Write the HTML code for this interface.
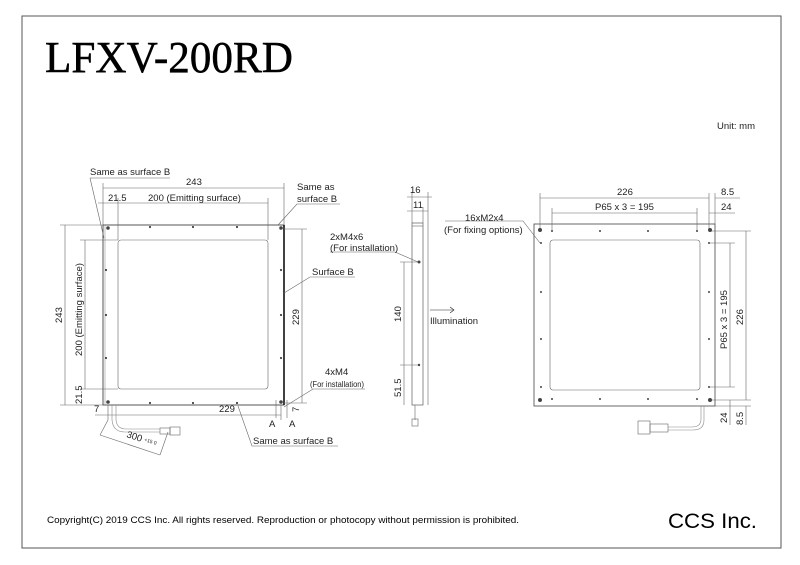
<!DOCTYPE html>
<html><head><meta charset="utf-8"><style>
html,body{margin:0;padding:0;background:#fff;}
svg{display:block;}
text{font-family:"Liberation Sans",Arial,sans-serif;fill:#222;}
.s{font-size:9.5px;}
</style></head><body>
<svg width="800" height="565" viewBox="0 0 800 565" xmlns="http://www.w3.org/2000/svg">
<rect x="22" y="16" width="759" height="532" fill="none" stroke="#555" stroke-width="1"/>
<text x="45" y="72" style="font-family:'Liberation Serif',serif;font-size:44px;fill:#000;stroke:#000;stroke-width:0.5" textLength="248" lengthAdjust="spacingAndGlyphs">LFXV-200RD</text>
<text x="717" y="129" style="font-size:9px" textLength="38" lengthAdjust="spacingAndGlyphs">Unit: mm</text>
<text x="47" y="523" style="font-size:9.5px;fill:#000" textLength="472" lengthAdjust="spacingAndGlyphs">Copyright(C) 2019 CCS Inc. All rights reserved. Reproduction or photocopy without permission is prohibited.</text>
<text x="668" y="528" style="font-size:21px;fill:#000" textLength="89" lengthAdjust="spacingAndGlyphs">CCS Inc.</text>

<g stroke="#666" stroke-width="0.6" fill="none">
<rect x="103" y="225" width="181" height="180" stroke="#444" stroke-width="0.9"/>
<line x1="284" y1="225" x2="284" y2="405" stroke="#111" stroke-width="1.6"/>
<line x1="105" y1="225" x2="105" y2="405" stroke="#999"/>
<rect x="118" y="240" width="150" height="149" rx="3"/>
<line x1="103" y1="188" x2="284" y2="188"/>
<line x1="103" y1="183" x2="103" y2="225"/><line x1="284" y1="183" x2="284" y2="225"/>
<line x1="98" y1="203" x2="268" y2="203"/>
<line x1="118" y1="198" x2="118" y2="240"/><line x1="268" y1="198" x2="268" y2="240"/>
<line x1="65" y1="225" x2="65" y2="405"/>
<line x1="60" y1="225" x2="103" y2="225"/><line x1="60" y1="405" x2="103" y2="405"/>
<line x1="85" y1="240" x2="85" y2="389"/>
<line x1="80" y1="240" x2="118" y2="240"/><line x1="80" y1="389" x2="118" y2="389"/>
<line x1="95" y1="415" x2="281" y2="415"/>
<line x1="108" y1="405" x2="108" y2="420"/><line x1="281" y1="405" x2="281" y2="420"/>
<line x1="302" y1="229" x2="302" y2="403"/>
<line x1="284" y1="229" x2="307" y2="229"/><line x1="284" y1="403" x2="307" y2="403"/>
<line x1="276" y1="400" x2="276" y2="418"/><line x1="287" y1="400" x2="287" y2="418"/>
<polyline points="90,178 170,178"/><line x1="90" y1="178" x2="104" y2="238"/>
<polyline points="340,204 297,204 278,225"/>
<polyline points="355,277 310,277 284,293"/>
<polyline points="365,389 313,389 284,407"/>
<polyline points="338,446 252,446 238,406"/>
<path d="M112 405 V420 Q113 432 125 432 H160" stroke="#888"/>
<path d="M116 405 V420 Q117 429 126 429 H160" stroke="#888"/>
<rect x="160" y="428" width="10" height="6"/><rect x="170" y="427" width="10" height="8"/>
<line x1="108" y1="420" x2="100" y2="435"/><line x1="100" y1="435" x2="160" y2="455"/><line x1="168" y1="432" x2="160" y2="455"/>

<rect x="412" y="223" width="11" height="182" stroke="#444"/>
<line x1="412" y1="226" x2="423" y2="226"/>
<line x1="407" y1="197" x2="432" y2="197"/>
<line x1="412" y1="192" x2="412" y2="223"/><line x1="428" y1="192" x2="428" y2="405"/>
<line x1="407" y1="211" x2="428" y2="211"/>
<line x1="423" y1="207" x2="423" y2="223"/>
<line x1="404" y1="262" x2="404" y2="405"/>
<line x1="400" y1="262" x2="419" y2="262"/><line x1="400" y1="365" x2="419" y2="365"/>
<polyline points="330,252 395,252 418,262"/>
<line x1="415" y1="405" x2="415" y2="420"/>
<rect x="412" y="419" width="6" height="7"/>
<line x1="430" y1="310" x2="454" y2="310" stroke="#222"/>
<polyline points="450,307 454,310 450,313" stroke="#222"/>

<rect x="534" y="224" width="181" height="182" stroke="#444" stroke-width="0.8"/>
<rect x="550" y="240" width="150" height="150" rx="3"/>
<line x1="540" y1="198" x2="709" y2="198"/>
<line x1="540" y1="193" x2="540" y2="230"/><line x1="709" y1="193" x2="709" y2="230"/>
<line x1="715" y1="198" x2="740" y2="198"/><line x1="715" y1="193" x2="715" y2="224"/>
<line x1="552" y1="213" x2="697" y2="213"/><line x1="552" y1="208" x2="552" y2="231"/><line x1="697" y1="208" x2="697" y2="231"/>
<line x1="709" y1="213" x2="735" y2="213"/>
<line x1="730" y1="243" x2="730" y2="387"/>
<line x1="709" y1="243" x2="735" y2="243"/><line x1="709" y1="387" x2="735" y2="387"/>
<line x1="746" y1="231" x2="746" y2="400"/>
<line x1="709" y1="231" x2="751" y2="231"/><line x1="709" y1="400" x2="751" y2="400"/>
<line x1="715" y1="406" x2="751" y2="406"/>
<line x1="730" y1="400" x2="730" y2="425"/><line x1="746" y1="406" x2="746" y2="425"/>
<polyline points="445,221 523,221 540,243"/>
<path d="M704 406 V420 Q704 430 693 430 H668" stroke="#888"/>
<path d="M701 406 V419 Q701 427 692 427 H668" stroke="#888"/>
<rect x="650" y="424" width="18" height="8"/><rect x="638" y="421" width="12" height="13"/>
</g>

<g fill="#444">
<circle cx="108" cy="228" r="1.8"/><circle cx="281" cy="228" r="1.8"/><circle cx="108" cy="402" r="1.8"/><circle cx="281" cy="402" r="1.8"/>
<circle cx="150" cy="227" r="1.1"/><circle cx="193" cy="227" r="1.1"/><circle cx="237" cy="227" r="1.1"/>
<circle cx="150" cy="403" r="1.1"/><circle cx="193" cy="403" r="1.1"/><circle cx="237" cy="403" r="1.1"/>
<circle cx="106" cy="270" r="1.1"/><circle cx="106" cy="315" r="1.1"/><circle cx="106" cy="358" r="1.1"/>
<circle cx="281" cy="270" r="1.1"/><circle cx="281" cy="315" r="1.1"/><circle cx="281" cy="358" r="1.1"/>
<circle cx="419" cy="262" r="1.5"/><circle cx="419" cy="365" r="1.2"/>
<circle cx="540" cy="230" r="2"/><circle cx="710" cy="230" r="2"/><circle cx="540" cy="400" r="2"/><circle cx="710" cy="400" r="2"/>
<circle cx="552" cy="231" r="1"/><circle cx="600" cy="231" r="1"/><circle cx="648" cy="231" r="1"/><circle cx="697" cy="231" r="1"/>
<circle cx="552" cy="399" r="1"/><circle cx="600" cy="399" r="1"/><circle cx="648" cy="399" r="1"/><circle cx="697" cy="399" r="1"/>
<circle cx="541" cy="243" r="1"/><circle cx="541" cy="292" r="1"/><circle cx="541" cy="339" r="1"/><circle cx="541" cy="387" r="1"/>
<circle cx="709" cy="243" r="1"/><circle cx="709" cy="292" r="1"/><circle cx="709" cy="339" r="1"/><circle cx="709" cy="387" r="1"/>
</g>

<g class="s">
<text x="90" y="175" class="s">Same as surface B</text>
<text x="186" y="185" class="s">243</text>
<text x="108" y="201" class="s">21.5</text>
<text x="148" y="201" class="s">200 (Emitting surface)</text>
<text x="297" y="190" class="s">Same as</text>
<text x="297" y="202" class="s">surface B</text>
<text x="312" y="275" class="s">Surface B</text>
<text x="325" y="375" class="s">4xM4</text>
<text x="310" y="387" style="font-size:8px" textLength="54" lengthAdjust="spacingAndGlyphs">(For installation)</text>
<text x="253" y="444" class="s">Same as surface B</text>
<text x="219" y="412" class="s">229</text>
<text x="94" y="412" class="s">7</text>
<text x="269" y="427" class="s">A</text>
<text x="289" y="427" class="s">A</text>
<text transform="translate(62,323) rotate(-90)" class="s">243</text>
<text transform="translate(82,356) rotate(-90)" class="s">200 (Emitting surface)</text>
<text transform="translate(82,404) rotate(-90)" class="s">21.5</text>
<text transform="translate(299,325) rotate(-90)" class="s">229</text>
<text transform="translate(299,412) rotate(-90)" class="s">7</text>
<text transform="translate(126,437) rotate(18)" class="s">300</text>
<text transform="translate(144,441) rotate(18)" style="font-size:5px">+15 0</text>

<text x="410" y="193" class="s">16</text>
<text x="413" y="208" class="s">11</text>
<text x="330" y="240" class="s">2xM4x6</text>
<text x="330" y="251" class="s">(For installation)</text>
<text transform="translate(401,322) rotate(-90)" class="s">140</text>
<text transform="translate(401,397) rotate(-90)" class="s">51.5</text>
<text x="430" y="324" class="s">Illumination</text>

<text x="617" y="195" class="s">226</text>
<text x="721" y="195" class="s">8.5</text>
<text x="595" y="210" class="s">P65 x 3 = 195</text>
<text x="721" y="210" class="s">24</text>
<text x="465" y="221" class="s">16xM2x4</text>
<text x="444" y="233" class="s">(For fixing options)</text>
<text transform="translate(727,349) rotate(-90)" class="s">P65 x 3 = 195</text>
<text transform="translate(743,325) rotate(-90)" class="s">226</text>
<text transform="translate(727,423) rotate(-90)" class="s">24</text>
<text transform="translate(743,425) rotate(-90)" class="s">8.5</text>
</g>
</svg>
</body></html>
